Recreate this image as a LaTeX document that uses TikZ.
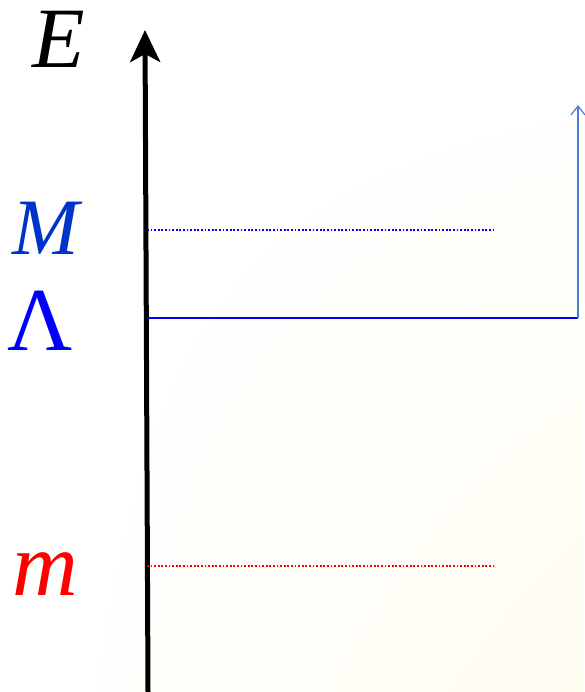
\documentclass[tikz,border=0pt]{standalone}
\usepackage{fontspec}
\setmainfont{Liberation Serif}
\usetikzlibrary{arrows.meta, positioning, calc, shadings}
\definecolor{massblue}{RGB}{0,51,204}
\definecolor{cutblue}{RGB}{0,0,255}
\definecolor{lightred}{RGB}{255,0,0}
\definecolor{flowblue}{RGB}{70,130,205}
\definecolor{paper}{RGB}{255,252,240}
\tikzset{
  scalelabel/.style={inner sep=0pt, font=\fontsize{#1}{#1}\selectfont\itshape},
  scalelabel/.default=80,
  levelline/.style={line width=1.8pt, dash pattern=on 1.8pt off 1.8pt},
}
\begin{document}
\begin{tikzpicture}[x=1pt, y=-1pt]
  \useasboundingbox (0,0) rectangle (584,692);
  \shade[upper left=white, upper right=white, lower left=white, lower right=paper] (0,0) rectangle (584,692);
  % energy axis
  \coordinate (base) at (148,692);
  \coordinate (top) at (145,30);
  \draw[line width=5pt, -{Stealth[length=32pt, width=30pt, inset=8pt]}] (base) -- (top);
  % labels
  \node[scalelabel=86] (E) at (59,39) {E};
  \node[scalelabel=80, massblue] (M) at (46,228) {M};
  \node[inner sep=0pt, cutblue, font=\fontsize{90}{90}\selectfont] (L) at (40,321) {Λ};
  \node[scalelabel=91, lightred] (m) at (45,574) {m};
  % levels
  \coordinate (Mstart) at (147,230);
  \coordinate (Mend) at (493,230);
  \coordinate (Lstart) at (147,318);
  \coordinate (Lend) at (578,318);
  \coordinate (flow) at (578,105);
  \coordinate (mstart) at (147,566);
  \coordinate (mend) at (493,566);
  \draw[levelline, cutblue] (Mstart) -- (Mend);
  \draw[levelline, lightred] (mstart) -- (mend);
  \draw[cutblue, line width=1.5pt] (Lstart) -- (Lend);
  \draw[flowblue, line width=1.2pt, -{Straight Barb[length=9pt, width=14pt]}] (Lend) -- (flow);
\end{tikzpicture}
\end{document}
